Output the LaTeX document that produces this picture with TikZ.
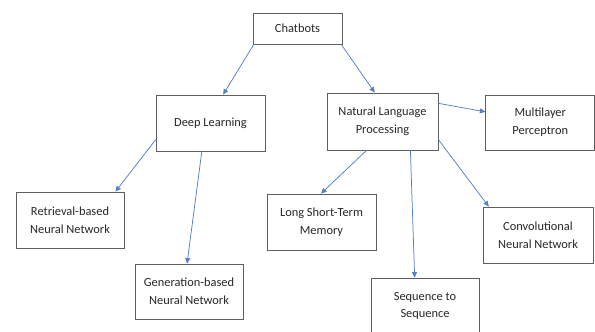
\documentclass[tikz,border=0pt]{standalone}
\usepackage{fontspec}
\setmainfont{Carlito}
\usepackage{xcolor}
\usepackage{tikz}
\usetikzlibrary{positioning,arrows.meta}
\definecolor{linkblue}{RGB}{84,128,200}
\definecolor{boxedge}{RGB}{95,95,95}
\definecolor{boxtext}{RGB}{40,40,40}
\tikzset{
  box/.style  = {draw=boxedge, line width=0.8pt, fill=white, align=center, text=boxtext,
                 font=\fontsize{12.4}{17.8}\selectfont, inner sep=0pt,
                 minimum width=109pt, minimum height=56pt},
  sbox/.style = {box, minimum width=89pt, minimum height=31pt},
  flow/.style = {-{Triangle[length=5.5pt,width=5pt]}, line width=0.75pt, draw=linkblue},
}

\begin{document}
\begin{tikzpicture}[x=1pt, y=-1pt]
  \useasboundingbox (0,0) rectangle (595,332);
  \node[sbox] (chat) at (297.5,28.5) {Chatbots};
  \node[box] (dl) at (210.5,123) {Deep Learning};
  \node[box, minimum width=111pt, minimum height=57pt] (nlp) at (382.5,121.5) {Natural Language\\Processing};
  \node[box, right=47pt of nlp, minimum height=55pt, yshift=-1pt] (mlp) {Multilayer\\Perceptron};
  \node[box, minimum width=108pt] (ret) at (70,220) {Retrieval-based\\Neural Network};
  \node[box, minimum width=108pt, minimum height=55pt] (gen) at (189,291.5) {Generation-based\\Neural Network};
  \node[box] (lstm) at (321.5,222) {Long Short-Term\\Memory};
  \node[box, minimum width=110pt] (cnn) at (538,235) {Convolutional\\Neural Network};
  \node[box, minimum width=108pt] (seq) at (425,306) {Sequence to\\Sequence};
  \draw[flow] (chat.200) -- (dl.66);
  \draw[flow] (chat.340) -- (nlp.105);
  \draw[flow] (dl.197) -- (ret.32);
  \draw[flow] (dl.253) -- (gen.94);
  \draw[flow] (nlp.241) -- (lstm.91);
  \draw[flow] (nlp.314) -- (seq.110);
  \draw[flow] (nlp.342) -- (cnn.150);
  \draw[flow] (nlp.18) -- (mlp.169);
\end{tikzpicture}
\end{document}
